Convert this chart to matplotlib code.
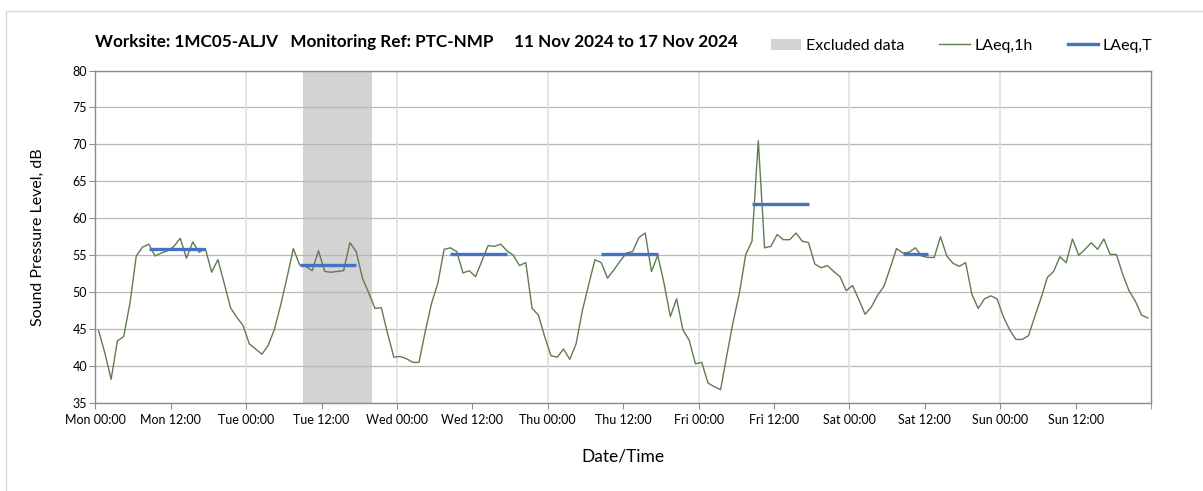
import numpy as np
import matplotlib
matplotlib.use('Agg')
import matplotlib.pyplot as plt
from matplotlib.patches import Patch, Rectangle
from matplotlib.lines import Line2D

plt.rcParams['font.family'] = ['Lato', 'DejaVu Sans']

#hourly LAeq,1h, plotted at mid-hour from Mon 00:00 (hours)
hours = np.arange(168) + 0.5
laeq_1h = [
    44.8, 41.8, 38.2, 43.4, 44.0, 48.5, 54.9, 56.1, 56.5, 54.9, 55.3, 55.6,
    56.2, 57.3, 54.6, 56.8, 55.4, 55.9, 52.7, 54.4, 51.2, 47.9, 46.6, 45.5,
    43.0, 42.3, 41.6, 42.8, 45.0, 48.3, 52.0, 55.9, 53.7, 53.5, 52.9, 55.6,
    52.8, 52.7, 52.8, 52.9, 56.7, 55.5, 51.9, 49.9, 47.8, 47.9, 44.4, 41.2,
    41.3, 41.0, 40.5, 40.5, 44.7, 48.5, 51.2, 55.8, 56.0, 55.5, 52.6, 52.9,
    52.1, 54.2, 56.3, 56.2, 56.5, 55.6, 55.0, 53.6, 54.0, 47.8, 46.9, 44.0,
    41.4, 41.2, 42.3, 40.9, 43.0, 47.5, 51.0, 54.4, 54.0, 51.9, 53.0, 54.2,
    55.3, 55.5, 57.4, 58.0, 52.8, 55.0, 51.2, 46.7, 49.1, 44.9, 43.5, 40.3,
    40.5, 37.7, 37.2, 36.8, 41.5, 46.0, 49.9, 55.1, 56.9, 70.5, 56.0, 56.2,
    57.8, 57.1, 57.1, 58.0, 56.9, 56.7, 53.8, 53.3, 53.6, 52.8, 52.1, 50.2,
    50.9, 49.0, 47.0, 48.0, 49.6, 50.8, 53.3, 55.9, 55.3, 55.4, 56.0, 54.9,
    54.7, 54.7, 57.5, 54.9, 53.9, 53.5, 54.0, 49.7, 47.8, 49.1, 49.5, 49.1,
    46.7, 44.9, 43.6, 43.6, 44.1, 46.7, 49.2, 52.0, 52.8, 54.8, 54.0, 57.2,
    55.0, 55.8, 56.7, 55.8, 57.2, 55.1, 55.1, 52.4, 50.2, 48.8, 46.9, 46.5,
]

#LAeq,T periods
t_start = [8.5, 32.5, 56.5, 80.5, 104.5, 128.5]
t_end = [17.5, 41.5, 65.5, 89.5, 113.5, 132.5]
laeq_t = [55.9, 53.7, 55.1, 55.1, 61.9, 55.2]

#excluded period (hours)
excl_start = 33
excl_end = 44

days = ['Mon', 'Tue', 'Wed', 'Thu', 'Fri', 'Sat', 'Sun']
tick_labels = []
for d in days:
    tick_labels.append(d + ' 00:00')
    tick_labels.append(d + ' 12:00')

green = '#5f7c50'
blue = '#4472c4'
axis_grey = '#8c8c8c'

fig = plt.figure(figsize=(12.03, 4.91), dpi=100)
ax = fig.add_axes([95.4/1203, 1-403/491, (1151-95.4)/1203, (403-70.5)/491])

#outer chart border
fig.patches.append(Rectangle((5.5/1203, -0.1), 1.2, 1-10.5/491+0.1, transform=fig.transFigure,
                             fill=False, edgecolor='#d9d9d9', linewidth=1.0, zorder=0))

ax.axvspan(excl_start, excl_end, color='#d3d3d3', zorder=0, linewidth=0)
ax.plot(hours, laeq_1h, color=green, linewidth=1.0, zorder=3)
for s, e, v in zip(t_start, t_end, laeq_t):
    ax.plot([s, e], [v, v], color=blue, linewidth=2.4, solid_capstyle='butt', zorder=4)

ax.set_xlim(0, 168)
ax.set_ylim(35, 80)
ax.set_yticks(np.arange(35, 81, 5))
ax.set_xticks(np.arange(0, 168, 12))
ax.set_xticklabels(tick_labels)
ax.set_xticks(np.arange(0, 169, 12), minor=True)

ax.grid(axis='y', color='#b8b8b8', linewidth=0.9, zorder=1)
for x in range(24, 168, 24):
    ax.axvline(x, color='#e0e0e0', linewidth=1.2, zorder=1)
ax.set_axisbelow(True)

for sp in ax.spines.values():
    sp.set_color(axis_grey)
    sp.set_linewidth(1.0)

ax.tick_params(axis='x', which='both', length=4, color=axis_grey, labelsize=9, pad=4)
ax.tick_params(axis='y', length=4, color=axis_grey, labelsize=9, pad=2)

ax.set_ylabel('Sound Pressure Level, dB', fontsize=11.5, labelpad=20)
ax.set_xlabel('Date/Time', fontsize=12.5, labelpad=16)

fig.text(95/1203, 1-42/491, 'Worksite: 1MC05-ALJV   Monitoring Ref: PTC-NMP     11 Nov 2024 to 17 Nov 2024',
         fontsize=12.3, fontweight='bold', va='center', ha='left')

handles = [Patch(facecolor='#d3d3d3', edgecolor='none'),
           Line2D([], [], color=green, linewidth=1.0),
           Line2D([], [], color=blue, linewidth=2.4)]
fig.legend(handles, ['Excluded data', 'LAeq,1h', 'LAeq,T'], ncol=3, frameon=False,
           loc='center right', bbox_to_anchor=(1167/1203, 1-46/491), fontsize=11.5,
           handlelength=1.9, handletextpad=0.3, columnspacing=2.2)

fig.savefig('out.png', dpi=100)
